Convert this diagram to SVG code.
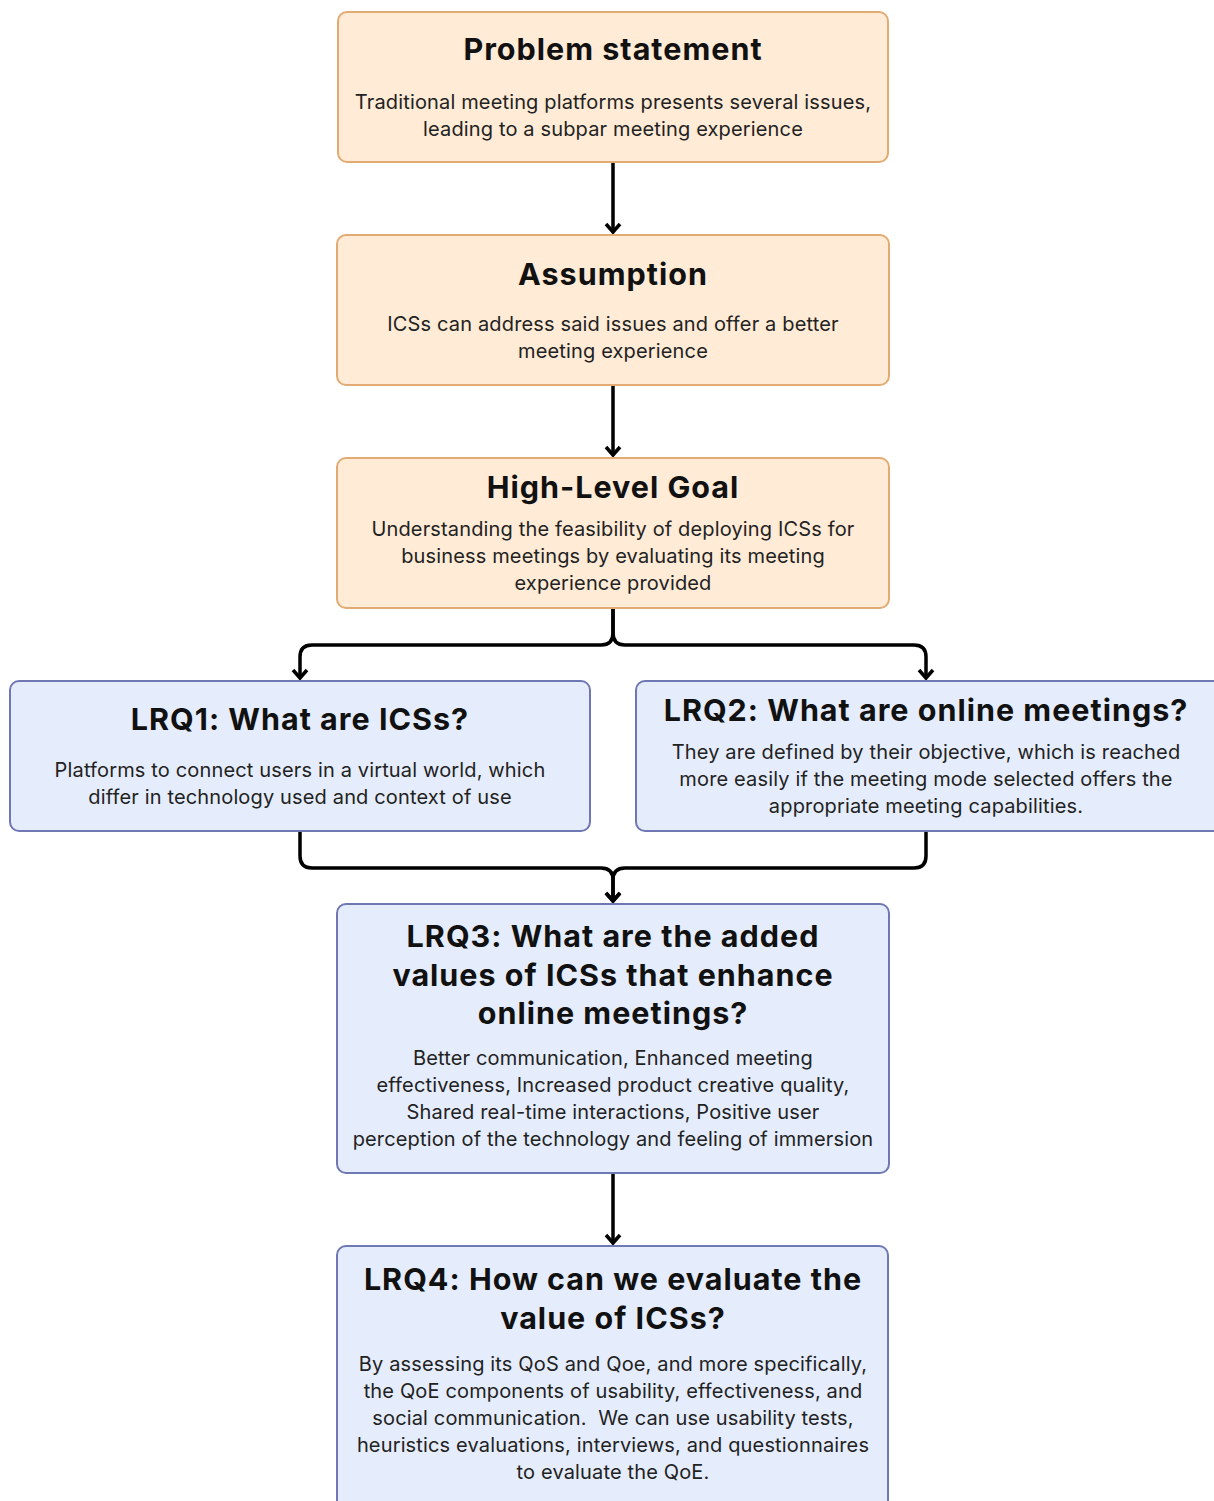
<svg xmlns="http://www.w3.org/2000/svg" width="1214" height="1501" viewBox="0 0 1214 1501">
<style>
.peach{fill:#ffebd6;stroke:#e2ab74;stroke-width:2}
.blue{fill:#e5edfc;stroke:#6f78b3;stroke-width:2}
.t{font-family:Inter,"Liberation Sans",sans-serif;font-weight:700;font-size:30.5px;fill:#111;text-anchor:middle;letter-spacing:1px}
.b{font-family:Inter,"Liberation Sans",sans-serif;font-size:20px;fill:#222;text-anchor:middle;letter-spacing:0.15px}
.c{fill:none;stroke:#000;stroke-width:3.5}
</style>
<defs>
<marker id="ah" markerUnits="userSpaceOnUse" markerWidth="20" markerHeight="20" refX="14" refY="10" orient="auto" viewBox="0 0 20 20">
<path d="M6,3 L14,10 L6,17" fill="none" stroke="#000" stroke-width="3.5" stroke-linejoin="miter"/>
</marker>
</defs>
<g id="connectors">
<path class="c" d="M613,163 V232" marker-end="url(#ah)"/>
<path class="c" d="M613,386 V455" marker-end="url(#ah)"/>
<path class="c" d="M613,609 V633 Q613,645 601,645 H312 Q300,645 300,657 V678" marker-end="url(#ah)"/>
<path class="c" d="M613,609 V633 Q613,645 625,645 H914 Q926,645 926,657 V678" marker-end="url(#ah)"/>
<path class="c" d="M300,832 V856 Q300,868 312,868 H601 Q613,868 613,880 V901" marker-end="url(#ah)"/>
<path class="c" d="M926,832 V856 Q926,868 914,868 H625 Q613,868 613,880 V901" marker-end="url(#ah)"/>
<path class="c" d="M613,1174 V1243" marker-end="url(#ah)"/>
</g>
<g id="problem">
<rect class="peach" x="338" y="12" width="550" height="150" rx="9"/>
<text class="t" x="613" y="60">Problem statement</text>
<text class="b" x="613" y="109">Traditional meeting platforms presents several issues,</text>
<text class="b" x="613" y="136">leading to a subpar meeting experience</text>
</g>
<g id="assumption">
<rect class="peach" x="337" y="235" width="552" height="150" rx="9"/>
<text class="t" x="613" y="285">Assumption</text>
<text class="b" x="613" y="331">ICSs can address said issues and offer a better</text>
<text class="b" x="613" y="358">meeting experience</text>
</g>
<g id="goal">
<rect class="peach" x="337" y="458" width="552" height="150" rx="9"/>
<text class="t" x="613" y="498">High-Level Goal</text>
<text class="b" x="613" y="536">Understanding the feasibility of deploying ICSs for</text>
<text class="b" x="613" y="563">business meetings by evaluating its meeting</text>
<text class="b" x="613" y="590">experience provided</text>
</g>
<g id="lrq1">
<rect class="blue" x="10" y="681" width="580" height="150" rx="9"/>
<text class="t" x="300" y="730">LRQ1: What are ICSs?</text>
<text class="b" x="300" y="777">Platforms to connect users in a virtual world, which</text>
<text class="b" x="300" y="804">differ in technology used and context of use</text>
</g>
<g id="lrq2">
<rect class="blue" x="636" y="681" width="590" height="150" rx="9"/>
<text class="t" x="926" y="721">LRQ2: What are online meetings?</text>
<text class="b" x="926" y="759">They are defined by their objective, which is reached</text>
<text class="b" x="926" y="786">more easily if the meeting mode selected offers the</text>
<text class="b" x="926" y="813">appropriate meeting capabilities.</text>
</g>
<g id="lrq3">
<rect class="blue" x="337" y="904" width="552" height="269" rx="9"/>
<text class="t" x="613" y="947">LRQ3: What are the added</text>
<text class="t" x="613" y="986">values of ICSs that enhance</text>
<text class="t" x="613" y="1024">online meetings?</text>
<text class="b" x="613" y="1065">Better communication, Enhanced meeting</text>
<text class="b" x="613" y="1092">effectiveness, Increased product creative quality,</text>
<text class="b" x="613" y="1119">Shared real-time interactions, Positive user</text>
<text class="b" x="613" y="1146">perception of the technology and feeling of immersion</text>
</g>
<g id="lrq4">
<rect class="blue" x="337" y="1246" width="551" height="270" rx="9"/>
<text class="t" x="613" y="1290">LRQ4: How can we evaluate the</text>
<text class="t" x="613" y="1329">value of ICSs?</text>
<text class="b" x="613" y="1371">By assessing its QoS and Qoe, and more specifically,</text>
<text class="b" x="613" y="1398">the QoE components of usability, effectiveness, and</text>
<text class="b" x="613" y="1425" style="white-space:pre">social communication.  We can use usability tests,</text>
<text class="b" x="613" y="1452">heuristics evaluations, interviews, and questionnaires</text>
<text class="b" x="613" y="1479">to evaluate the QoE.</text>
</g>
</svg>
